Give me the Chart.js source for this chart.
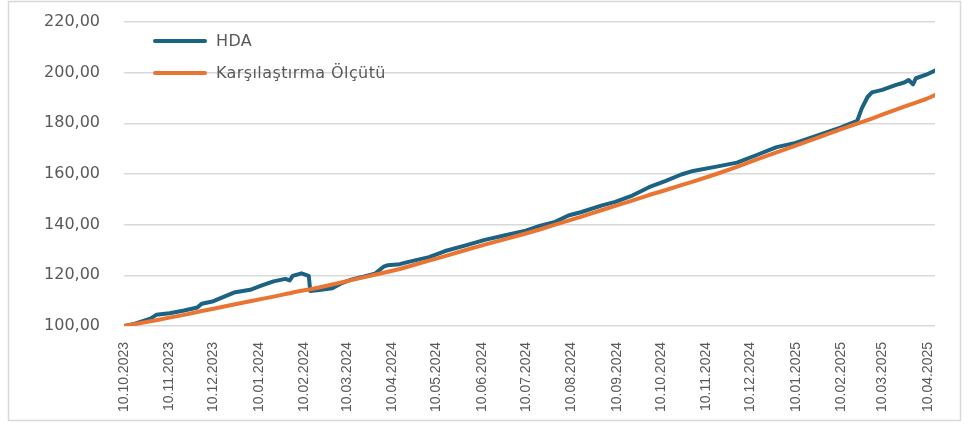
<!DOCTYPE html>
<html lang="tr">
<head>
<meta charset="utf-8">
<title>HDA - Karşılaştırma Ölçütü</title>
<script src="https://cdn.jsdelivr.net/npm/chart.js@4.4.1/dist/chart.umd.min.js"></script>
<style>
  html, body { margin: 0; padding: 0; background: #fff; width: 972px; height: 426px; overflow: hidden; }
  #wrap { position: absolute; left: 0; top: 0; width: 972px; height: 426px; }
  .legend {
    position: absolute; left: 153px; font-family: 'DejaVu Sans', sans-serif;
    font-size: 16px; letter-spacing: 0.4px; color: #595959; line-height: 20px; z-index: 3;
  }
  .legend div { display: flex; align-items: center; height: 20px; margin-bottom: 12px; }
  .legend span.swatch { display: inline-block; width: 54px; height: 4px; border-radius: 2px; margin-right: 9px; }
</style>
</head>
<body>
<div id="wrap"><canvas id="fundChart" width="972" height="426"></canvas></div>
<div class="legend" id="legend" style="top:31px"></div>

<script>
// Series values (dd.mm.yyyy)
const dates = [
  '10.10.2023', '17.10.2023', '28.10.2023', '01.11.2023', '10.11.2023', '20.11.2023',
  '29.11.2023', '02.12.2023', '10.12.2023', '19.12.2023', '24.12.2023', '04.01.2024',
  '12.01.2024', '20.01.2024', '28.01.2024', '31.01.2024', '02.02.2024', '08.02.2024',
  '13.02.2024', '14.02.2024', '20.02.2024', '29.02.2024', '06.03.2024', '13.03.2024',
  '22.03.2024', '29.03.2024', '04.04.2024', '07.04.2024', '15.04.2024', '21.04.2024',
  '05.05.2024', '16.05.2024', '30.05.2024', '12.06.2024', '26.06.2024', '10.07.2024',
  '20.07.2024', '30.07.2024', '08.08.2024', '17.08.2024', '31.08.2024', '09.09.2024',
  '21.09.2024', '02.10.2024', '13.10.2024', '24.10.2024', '01.11.2024', '17.11.2024',
  '01.12.2024', '14.12.2024', '28.12.2024', '10.01.2025', '27.01.2025', '10.02.2025',
  '15.02.2025', '21.02.2025', '24.02.2025', '28.02.2025', '03.03.2025', '10.03.2025',
  '19.03.2025', '25.03.2025', '28.03.2025', '31.03.2025', '02.04.2025', '09.04.2025',
  '15.04.2025'
];

const hda = [
  100.0, 100.8, 102.9, 104.4, 105.0, 106.1,
  107.3, 108.8, 109.8, 112.0, 113.2, 114.3,
  116.0, 117.6, 118.6, 118.0, 119.8, 120.8,
  119.8, 113.8, 114.2, 114.9, 116.8, 118.3,
  119.6, 120.6, 123.4, 124.0, 124.4, 125.3,
  127.2, 129.6, 131.8, 134.0, 135.8, 137.6,
  139.6, 141.1, 143.6, 145.0, 147.6, 149.0,
  151.6, 154.8, 157.2, 159.8, 161.2, 162.9,
  164.5, 167.4, 170.6, 172.3, 175.6, 178.4,
  179.6, 181.0, 185.8, 190.4, 192.2, 193.2,
  195.1, 196.1, 197.1, 195.4, 197.8, 199.2,
  200.8
];

const benchmark = [
  100.0, 100.7, 101.9, 102.3, 103.3, 104.4,
  105.5, 105.9, 106.8, 107.9, 108.5, 109.8,
  110.7, 111.6, 112.6, 112.9, 113.2, 113.9,
  114.4, 114.5, 115.2, 116.4, 117.2, 118.1,
  119.3, 120.2, 121.0, 121.4, 122.5, 123.5,
  125.8, 127.6, 130.0, 132.1, 134.3, 136.5,
  138.2, 140.0, 141.6, 143.2, 145.8, 147.4,
  149.6, 151.7, 153.6, 155.6, 157.0, 160.0,
  162.8, 165.7, 168.5, 171.2, 174.8, 177.7,
  178.7, 179.9, 180.5, 181.3, 181.9, 183.4,
  185.3, 186.6, 187.2, 187.8, 188.2, 189.6,
  191.2
];

const xTickLabels = [
  '10.10.2023', '10.11.2023', '10.12.2023', '10.01.2024', '10.02.2024', '10.03.2024',
  '10.04.2024', '10.05.2024', '10.06.2024', '10.07.2024', '10.08.2024', '10.09.2024',
  '10.10.2024', '10.11.2024', '10.12.2024', '10.01.2025', '10.02.2025', '10.03.2025',
  '10.04.2025'
];

const seriesNames = ['HDA', 'Karşılaştırma Ölçütü'];
const seriesColors = ['#1b6283', '#ea7533'];

// days since the first date, used as a linear x value
function dayIndex(str) {
  const p = str.split('.');
  const t = Date.UTC(+p[2], +p[1] - 1, +p[0]);
  const p0 = dates[0].split('.');
  const t0 = Date.UTC(+p0[2], +p0[1] - 1, +p0[0]);
  return Math.round((t - t0) / 86400000);
}

const tickDays = xTickLabels.map(dayIndex);
const labelByDay = {};
xTickLabels.forEach((l, i) => { labelByDay[tickDays[i]] = l; });

function toPoints(values) {
  return dates.map((d, i) => ({ x: dayIndex(d), y: values[i] }));
}

// grey frame around the whole chart, like the spreadsheet chart border
const frameBorder = {
  id: 'frameBorder',
  afterDraw(chart) {
    const c = chart.ctx;
    c.save();
    c.strokeStyle = '#d9d9d9';
    c.lineWidth = 1.5;
    c.strokeRect(8.5, 1.5, 952, 419);
    c.restore();
  }
};

document.addEventListener('DOMContentLoaded', function() {
  buildLegend();
  initChart();
});

function buildLegend() {
  const box = document.getElementById('legend');
  box.innerHTML = seriesNames.map((name, i) => `
    <div><span class="swatch" style="background:${seriesColors[i]}"></span>${name}</div>
  `).join('');
}

function initChart() {
  const ctx = document.getElementById('fundChart').getContext('2d');
  new Chart(ctx, {
    type: 'line',
    data: {
      datasets: [
        {
          label: seriesNames[0],
          data: toPoints(hda),
          borderColor: seriesColors[0],
          borderWidth: 4,
          pointRadius: 0,
          tension: 0,
          borderCapStyle: 'round',
          borderJoinStyle: 'round',
          order: 1
        },
        {
          label: seriesNames[1],
          data: toPoints(benchmark),
          borderColor: seriesColors[1],
          borderWidth: 4,
          pointRadius: 0,
          tension: 0,
          borderCapStyle: 'round',
          borderJoinStyle: 'round',
          order: 0
        }
      ]
    },
    plugins: [frameBorder],
    options: {
      responsive: false,
      animation: false,
      layout: { padding: { top: 22, right: 37, bottom: 0, left: 0 } },
      plugins: {
        legend: { display: false },
        tooltip: { enabled: false }
      },
      scales: {
        x: {
          type: 'linear',
          min: 0,
          max: dayIndex(dates[dates.length - 1]),
          grid: { display: false },
          border: { display: false },
          afterBuildTicks: function(scale) {
            scale.ticks = tickDays.map(v => ({ value: v }));
          },
          afterFit: function(scale) { scale.height = 100; },
          ticks: {
            autoSkip: false,
            minRotation: 90,
            maxRotation: 90,
            padding: 8,
            color: '#595959',
            font: { family: 'Liberation Sans', size: 14 },
            callback: function(value) { return labelByDay[value] || ''; }
          }
        },
        y: {
          min: 100,
          max: 220,
          grid: { color: '#d9d9d9', lineWidth: 1.5, drawTicks: false },
          border: { display: false },
          afterFit: function(scale) {
            scale.width = 124;
            // tick padding is only horizontal here, keep it out of the top margin
            scale.paddingTop = 0;
            scale.paddingBottom = 0;
          },
          ticks: {
            stepSize: 20,
            padding: 24,
            color: '#595959',
            font: { family: 'DejaVu Sans', size: 16 },
            callback: function(value) { return value.toFixed(2).replace('.', ','); }
          }
        }
      }
    }
  });
}
</script>
</body>
</html>
